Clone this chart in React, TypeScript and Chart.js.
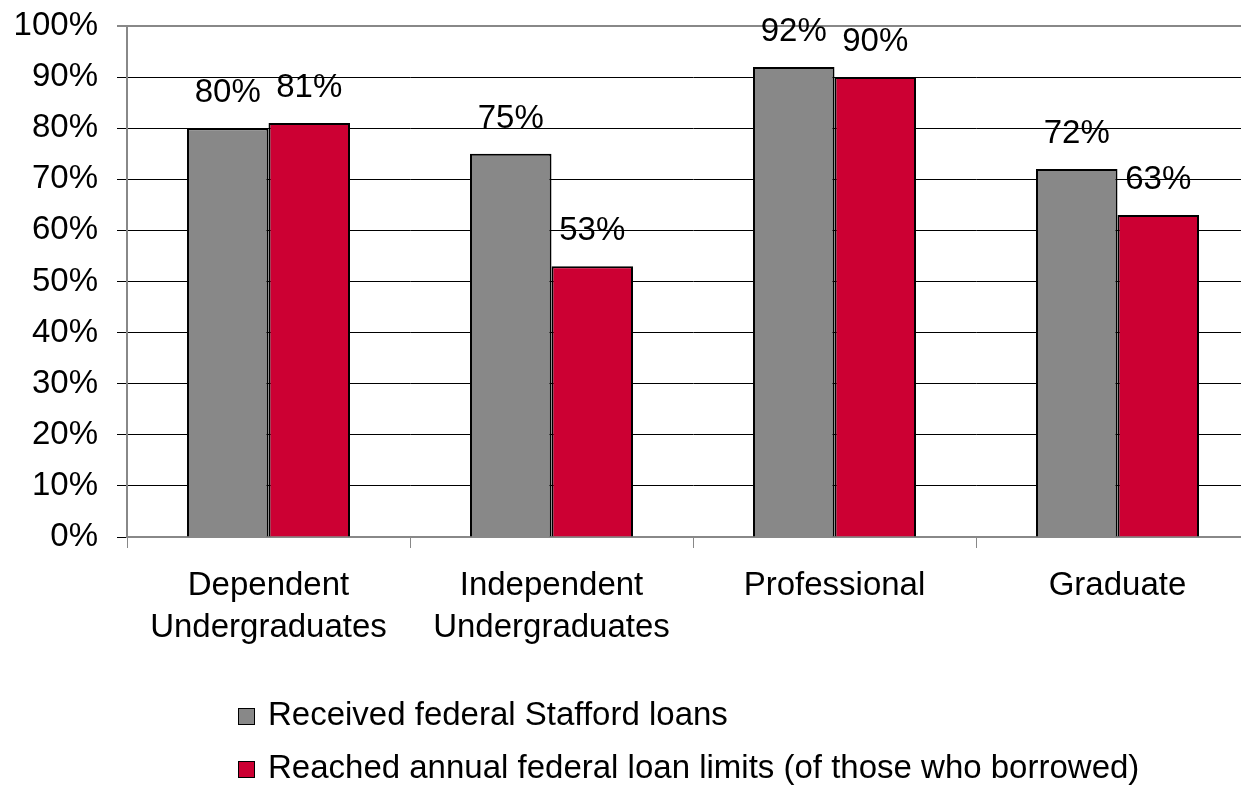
import React, { useEffect, useRef } from "react";
import { Chart, registerables } from "chart.js";

Chart.register(...registerables);

const categories: string[][] = [
  ["Dependent", "Undergraduates"],
  ["Independent", "Undergraduates"],
  ["Professional"],
  ["Graduate"],
];
const receivedStafford: number[] = [80, 75, 92, 72];
const reachedLimits: number[] = [81, 53, 90, 63];
const seriesNames: string[] = [
  "Received federal Stafford loans",
  "Reached annual federal loan limits (of those who borrowed)",
];
const seriesColors: string[] = ["#888888", "#CC0033"];
const yTickValues: number[] = [0, 10, 20, 30, 40, 50, 60, 70, 80, 90, 100];

const FONT = "Arial, 'Liberation Sans', Helvetica, sans-serif";

const valueLabels = {
  id: "valueLabels",
  afterDatasetsDraw(chart: any) {
    const ctx = chart.ctx;
    ctx.save();
    ctx.font = `33px ${FONT}`;
    ctx.fillStyle = "#000";
    ctx.textAlign = "center";
    ctx.textBaseline = "alphabetic";
    chart.data.datasets.forEach((ds: any, i: number) => {
      const meta = chart.getDatasetMeta(i);
      meta.data.forEach((el: any, j: number) => {
        ctx.fillText(ds.data[j] + "%", el.x, el.y - 26);
      });
    });
    ctx.restore();
  },
};

const customLegend = {
  id: "customLegend",
  afterDraw(chart: any) {
    const ctx = chart.ctx;
    ctx.save();
    ctx.font = `33px ${FONT}`;
    ctx.textAlign = "left";
    ctx.textBaseline = "middle";
    const rows = [716, 769];
    chart.data.datasets.forEach((ds: any, i: number) => {
      const cy = rows[i];
      ctx.fillStyle = ds.backgroundColor;
      ctx.fillRect(238, cy - 8, 17, 17);
      ctx.strokeStyle = "#000";
      ctx.lineWidth = 1;
      ctx.strokeRect(238.5, cy - 7.5, 16, 16);
      ctx.fillStyle = "#000";
      ctx.fillText(ds.label, 268, cy);
    });
    ctx.restore();
  },
};

export default function App() {
  const ref = useRef<HTMLCanvasElement | null>(null);

  useEffect(() => {
    if (!ref.current) return;
    Chart.defaults.font.family = FONT;
    const chart = new Chart(ref.current, {
      type: "bar",
      data: {
        labels: categories,
        datasets: [
          {
            label: seriesNames[0],
            data: receivedStafford,
            backgroundColor: seriesColors[0],
            borderColor: "#000",
            borderWidth: 2,
            categoryPercentage: 0.576,
            barPercentage: 1,
          },
          {
            label: seriesNames[1],
            data: reachedLimits,
            backgroundColor: seriesColors[1],
            borderColor: "#000",
            borderWidth: 2,
            categoryPercentage: 0.576,
            barPercentage: 1,
          },
        ],
      },
      options: {
        responsive: false,
        animation: false,
        devicePixelRatio: 1,
        layout: { padding: { top: 26, left: 0, right: 3, bottom: 128 } },
        plugins: {
          legend: { display: false },
          tooltip: { enabled: false },
        },
        scales: {
          x: {
            grid: {
              drawOnChartArea: false,
              drawTicks: true,
              tickLength: 11,
              color: "#888",
              offset: true,
            },
            border: { color: "#888", width: 2 },
            ticks: {
              color: "#000",
              font: { size: 33, lineHeight: 1.27 },
              padding: 17,
              maxRotation: 0,
              autoSkip: false,
            },
            afterFit: (s: any) => {
              s.height = 120;
            },
          },
          y: {
            min: 0,
            max: 100,
            afterBuildTicks: (s: any) => {
              s.ticks = yTickValues.map((v) => ({ value: v }));
            },
            grid: {
              color: (c: any) => (c.tick && c.tick.value === 100 ? "#888" : "#000"),
              lineWidth: (c: any) => (c.tick && c.tick.value === 100 ? 2 : 1),
              tickLength: 10,
            },
            border: { color: "#888", width: 2 },
            ticks: {
              color: "#000",
              font: { size: 33 },
              padding: 19,
              callback: (v: any) => v + "%",
            },
            afterFit: (s: any) => {
              s.width = 127;
              s.paddingTop = 0;
              s.paddingBottom = 0;
            },
          },
        },
      },
      plugins: [valueLabels, customLegend],
    });
    return () => chart.destroy();
  }, []);

  return (
    <div
      style={{
        position: "fixed",
        left: 0,
        top: 0,
        width: 1241,
        height: 785,
        overflow: "hidden",
        background: "#fff",
      }}
    >
      <canvas ref={ref} width={1262} height={785} style={{ display: "block" }} />
    </div>
  );
}
